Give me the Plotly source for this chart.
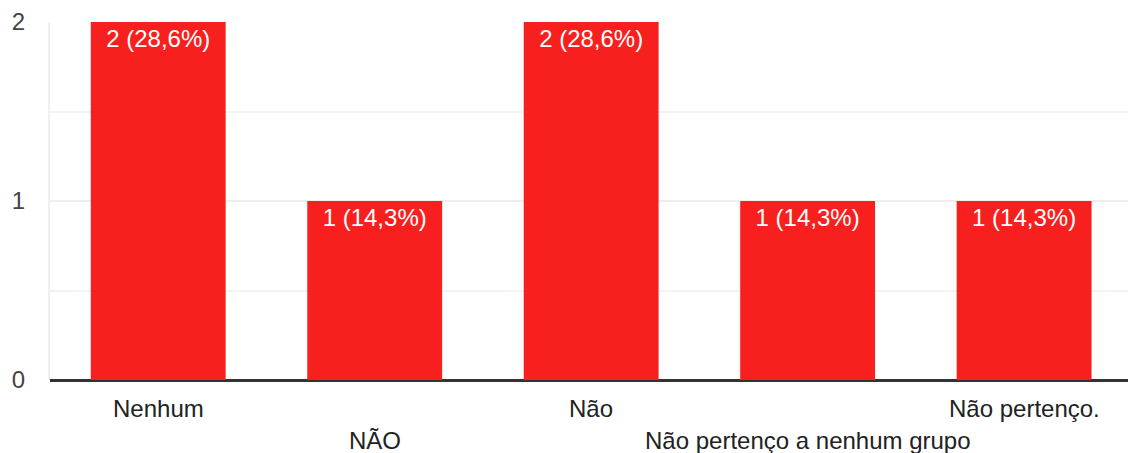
import plotly.graph_objects as go

categories = ["Nenhum", "NÃO", "Não", "Não pertenço a nenhum grupo", "Não pertenço."]
counts = [2, 1, 2, 1, 1]
percents = ["28,6%", "14,3%", "28,6%", "14,3%", "14,3%"]
label_rows = [0, 1, 0, 1, 0]
y_ticks = [0, 1, 2]

bar_color = "#f8201e"
font_family = "Liberation Sans, Arial, sans-serif"
font_size = 24

texts = [f"{c} ({p})" for c, p in zip(counts, percents)]

fig = go.Figure()
fig.add_trace(go.Bar(
    x=categories,
    y=counts,
    text=texts,
    textposition="inside",
    insidetextanchor="end",
    textangle=0,
    textfont=dict(color="white", size=font_size, family=font_family),
    marker=dict(color=bar_color, line=dict(width=0)),
    width=0.623,
    hoverinfo="skip",
))

for cat, row in zip(categories, label_rows):
    fig.add_annotation(
        x=cat, xref="x", y=0, yref="paper",
        text=cat, showarrow=False,
        yanchor="middle", yshift=-28 - 32 * row,
        font=dict(size=font_size, color="#222222", family=font_family),
    )

fig.update_layout(
    width=1128, height=453,
    margin=dict(l=50, r=0, t=22, b=73),
    paper_bgcolor="white", plot_bgcolor="white",
    showlegend=False,
    font=dict(family=font_family),
)
fig.update_xaxes(
    type="category",
    range=[-0.5, 4.48],
    showticklabels=False,
    showgrid=False,
    zeroline=False,
    showline=False,
    fixedrange=True,
)
fig.update_yaxes(
    range=[0, 2],
    tickvals=y_ticks,
    ticktext=[str(v) for v in y_ticks],
    tickfont=dict(size=font_size, color="#444444", family=font_family),
    ticks="",
    ticklabelstandoff=18,
    showgrid=True,
    gridcolor="#eeeeee",
    gridwidth=2,
    minor=dict(dtick=0.5, tick0=0, showgrid=True, gridcolor="#f3f3f3", gridwidth=2),
    zeroline=True,
    zerolinecolor="#333333",
    zerolinewidth=3,
    showline=True,
    linecolor="#f0f0f0",
    linewidth=2,
    fixedrange=True,
)

fig.write_html(
    "out.html",
    config={"displayModeBar": False},
    post_script="document.body.style.margin='0';document.body.style.overflow='hidden';",
)
